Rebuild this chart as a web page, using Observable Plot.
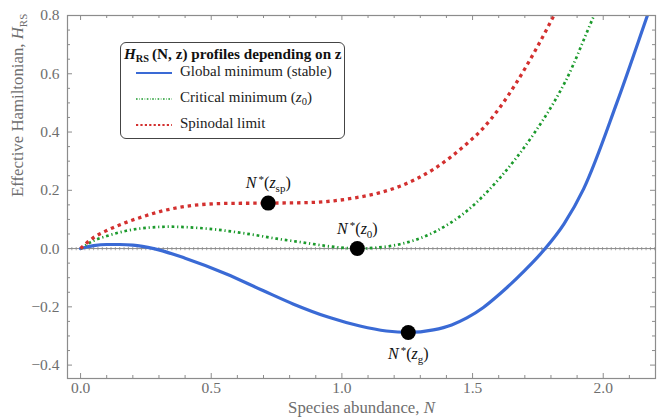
<!DOCTYPE html>
<html><head><meta charset="utf-8">
<script src="https://cdn.jsdelivr.net/npm/d3@7"></script>
<script src="https://cdn.jsdelivr.net/npm/@observablehq/plot@0.6"></script>
<style>
body{margin:0;background:#fff;}
#wrap{position:relative;width:664px;height:420px;font-family:"Liberation Serif","Times New Roman",serif;}
#legend{position:absolute;left:120px;top:42px;width:223px;height:95px;border:1px solid #444;border-radius:6px;background:#fff;font-family:"Liberation Serif","Times New Roman",serif;}
#legend .title{position:absolute;left:3px;top:2px;font-weight:bold;font-size:15.2px;white-space:nowrap;color:#111;}
#legend .title sub{font-size:10.3px;vertical-align:-3px;}
#legend .row{position:absolute;left:0;height:20px;width:223px;}
#legend .row svg{position:absolute;left:15px;top:7px;}
#legend .row span{position:absolute;left:59px;top:0;font-size:15px;color:#222;white-space:nowrap;}
#legend .row span sub{font-size:10.5px;vertical-align:-3px;}
</style></head><body><div id="wrap"></div>
<script>
// ---- data ----
const globalX = [0, 0.05, 0.1, 0.15, 0.2, 0.28, 0.4, 0.558, 0.7, 0.813, 0.95, 1.069, 1.17, 1.254, 1.35, 1.42, 1.478, 1.54, 1.605, 1.7, 1.778, 1.85, 1.925, 2.052, 2.169, 2.2];
const globalY = [0, 0.010, 0.014, 0.014, 0.012, 0, -0.033, -0.087, -0.145, -0.19, -0.236, -0.266, -0.283, -0.288, -0.279, -0.262, -0.238, -0.203, -0.155, -0.075, 0, 0.085, 0.205, 0.5, 0.8, 0.88];
const criticalX = [0, 0.047, 0.1, 0.175, 0.25, 0.341, 0.45, 0.558, 0.65, 0.75, 0.85, 0.941, 1.059, 1.14, 1.222, 1.35, 1.478, 1.605, 1.733, 1.81, 1.856, 1.965, 2.0];
const criticalY = [0, 0.026, 0.043, 0.061, 0.071, 0.075, 0.071, 0.061, 0.049, 0.034, 0.021, 0.009, 0, 0.004, 0.015, 0.055, 0.129, 0.243, 0.392, 0.5, 0.575, 0.8, 0.87];
const spinodalX = [0, 0.047, 0.1, 0.175, 0.24, 0.303, 0.43, 0.558, 0.718, 0.877, 0.97, 1.056, 1.15, 1.222, 1.35, 1.478, 1.536, 1.605, 1.664, 1.74, 1.811, 1.85];
const spinodalY = [0, 0.036, 0.062, 0.09, 0.11, 0.127, 0.148, 0.155, 0.156, 0.158, 0.164, 0.175, 0.193, 0.214, 0.272, 0.36, 0.409, 0.485, 0.564, 0.68, 0.8, 0.87];
const pointX = [0.718, 1.059, 1.254];
const pointY = [0.156, 0, -0.288];
const pointSub = ["sp", "0", "g"];
const seriesNames = ["Global minimum (stable)", "Critical minimum (z0)", "Spinodal limit"];
const xMajor = [0, 0.5, 1, 1.5, 2];
const xMajorLabels = ["0.0", "0.5", "1.0", "1.5", "2.0"];
const xMinor = [0.1, 0.2, 0.3, 0.4, 0.6, 0.7, 0.8, 0.9, 1.1, 1.2, 1.3, 1.4, 1.6, 1.7, 1.8, 1.9, 2.1];
const yMajor = [-0.4, -0.2, 0, 0.2, 0.4, 0.6, 0.8];
const yMajorLabels = ["\u22120.4", "\u22120.2", "0.0", "0.2", "0.4", "0.6", "0.8"];
const yMinor = [-0.35, -0.3, -0.25, -0.15, -0.1, -0.05, 0.05, 0.1, 0.15, 0.25, 0.3, 0.35, 0.45, 0.5, 0.55, 0.65, 0.7, 0.75];

// ---- styling ----
const W = 664, H = 420, mL = 67, mR = 9, mT = 15, mB = 42;
const pW = W - mL - mR, pH = H - mT - mB;
const blue = "#3a6ad5", green = "#1b9a2c", red = "#d3302f";
const axisGray = "#8c8c8c", labelGray = "#6e6e6e";
const font = "'Liberation Serif', 'Times New Roman', serif";

const mk = (xs, ys) => xs.map((x, i) => ({x, y: ys[i]}));
const gData = mk(globalX, globalY), cData = mk(criticalX, criticalY), sData = mk(spinodalX, spinodalY);
const pts = pointX.map((x, i) => ({x, y: pointY[i], sub: pointSub[i], i}));

const chart = Plot.plot({
  width: W, height: H,
  marginLeft: mL, marginRight: mR, marginTop: mT, marginBottom: mB,
  style: {fontFamily: font, fontSize: "15px", background: "#fff"},
  x: {domain: [-0.05, 2.2]},
  y: {domain: [-0.446, 0.8]},
  marks: [
    // zero line with small ticks
    Plot.ruleY([0], {stroke: "#8a8a8a", strokeWidth: 1}),
    Plot.ruleY([0], {stroke: "#8a8a8a", strokeWidth: 3.2, strokeDasharray: "1,3.35", strokeOpacity: 0.75}),
    // curves
    Plot.line(gData, {x: "x", y: "y", stroke: blue, strokeWidth: 3.2, curve: "monotone-x", clip: true}),
    Plot.line(cData, {x: "x", y: "y", stroke: green, strokeWidth: 2.7, strokeDasharray: "2.7,2.8,1.2,2.8", strokeLinecap: "butt", curve: "monotone-x", clip: true}),
    Plot.line(sData, {x: "x", y: "y", stroke: red, strokeWidth: 3.3, strokeDasharray: "3.4,3.9", strokeLinecap: "butt", curve: "monotone-x", clip: true}),
    // points
    Plot.dot(pts, {x: "x", y: "y", r: 7.5, fill: "#000"}),
    Plot.text(pts.filter(d => d.i < 2), {x: "x", y: "y", text: d => "N*(" + d.sub + ")", dy: -20, fontSize: 16, fill: "#111"}),
    Plot.text(pts.filter(d => d.i === 2), {x: "x", y: "y", text: d => "N*(" + d.sub + ")", dy: 21, fontSize: 16, fill: "#111"}),
    // frame & ticks (inward)
    Plot.frame({stroke: axisGray, strokeWidth: 1.2}),
    Plot.tickX(xMajor, {x: d => d, stroke: axisGray, insetTop: pH - 5}),
    Plot.tickX(xMinor, {x: d => d, stroke: axisGray, insetTop: pH - 3}),
    Plot.tickX(xMajor, {x: d => d, stroke: axisGray, insetBottom: pH - 5}),
    Plot.tickX(xMinor, {x: d => d, stroke: axisGray, insetBottom: pH - 3}),
    Plot.tickY(yMajor, {y: d => d, stroke: axisGray, insetRight: pW - 5}),
    Plot.tickY(yMinor, {y: d => d, stroke: axisGray, insetRight: pW - 3}),
    Plot.tickY(yMajor, {y: d => d, stroke: axisGray, insetLeft: pW - 5}),
    Plot.tickY(yMinor, {y: d => d, stroke: axisGray, insetLeft: pW - 3}),
    // axes labels
    Plot.axisX(xMajor, {tickSize: 0, tickPadding: 3, tickFormat: (d, i) => xMajorLabels[i], fill: labelGray, fontSize: 15.5, label: null}),
    Plot.axisY(yMajor, {tickSize: 0, tickPadding: 8, tickFormat: (d, i) => yMajorLabels[i], fill: labelGray, fontSize: 15.5, label: null}),
    Plot.text(["Species abundance, N"], {frameAnchor: "bottom", dy: 34, fill: labelGray, fontSize: 16.8}),
    Plot.text(["Effective Hamiltonian, HRS"], {frameAnchor: "left", dx: -50, rotate: -90, fill: labelGray, fontSize: 16.8})
  ]
});

// ---- rich text post-processing ----
function setRich(el, parts) {
  const t = d3.select(el); t.text(null);
  let shift = 0;
  for (const p of parts) {
    const ts = t.append("tspan").text(p.t);
    if (p.italic) ts.attr("font-style", "italic");
    if (p.size) ts.attr("font-size", p.size);
    const target = p.shift || 0;
    if (target !== shift) { ts.attr("dy", target - shift); shift = target; }
  }
}
d3.select(chart).selectAll("text").each(function() {
  const s = this.textContent;
  let m;
  if ((m = s.match(/^N\*\((.*)\)$/))) {
    setRich(this, [
      {t: "N", italic: true},
      {t: "\u2009*", size: 11, shift: -5},
      {t: "(", shift: 0},
      {t: "z", italic: true},
      {t: m[1], size: 11, shift: 4},
      {t: ")", shift: 0}
    ]);
  } else if (s === "Species abundance, N") {
    setRich(this, [{t: "Species abundance, "}, {t: "N", italic: true}]);
  } else if (s === "Effective Hamiltonian, HRS") {
    setRich(this, [{t: "Effective Hamiltonian, "}, {t: "H", italic: true}, {t: "RS", size: 11, shift: 4}]);
  }
});

const wrap = document.getElementById("wrap");
wrap.appendChild(chart);

// ---- legend ----
const legendColors = [blue, green, red];
const legendWidths = [2, 1.6, 2];
const legendDash = [null, "1.6,1.6,0.6,1.6", "2.2,2.2"];
const legendLabelsHtml = ["Global minimum (stable)", "Critical minimum (<i>z</i><sub>0</sub>)", "Spinodal limit"];
const leg = document.createElement("div");
leg.id = "legend";
let html = '<div class="title"><i>H</i><sub>RS</sub>\u2009(N, z) profiles depending on z</div>';
seriesNames.forEach((n, i) => {
  const top = 20 + i * 26;
  html += `<div class="row" style="top:${top}px"><svg width="36" height="6"><line x1="0" y1="3" x2="36" y2="3" stroke="${legendColors[i]}" stroke-width="${legendWidths[i]}" ${legendDash[i] ? `stroke-dasharray="${legendDash[i]}"` : ""}/></svg><span>${legendLabelsHtml[i]}</span></div>`;
});
leg.innerHTML = html;
wrap.appendChild(leg);
</script>
</body></html>
